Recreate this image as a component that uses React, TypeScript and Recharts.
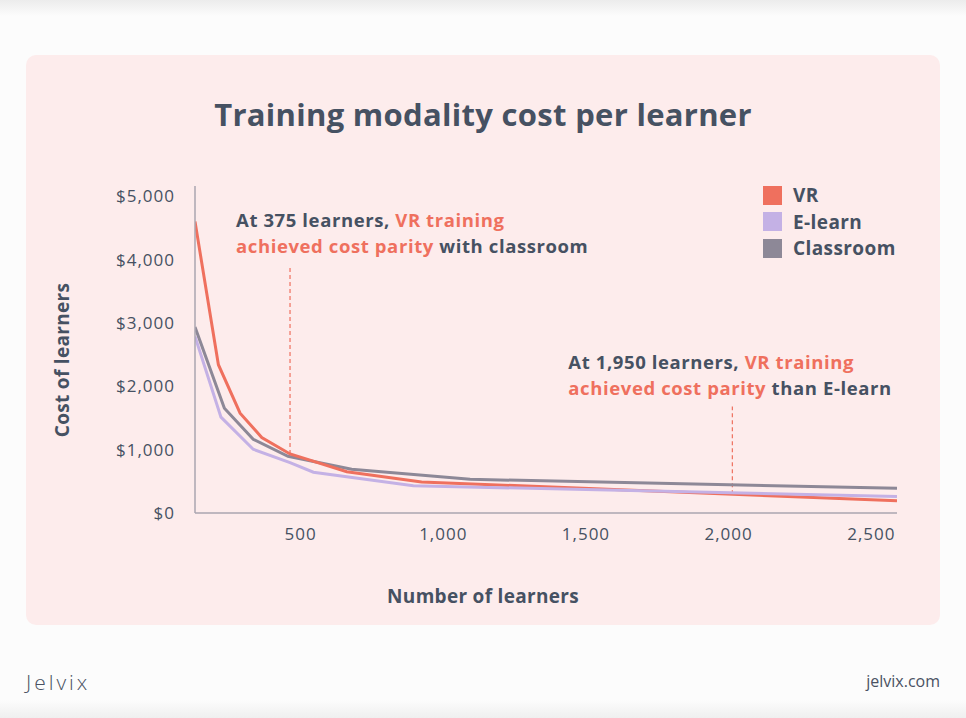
import React from 'react';
import { LineChart, Line, XAxis, YAxis, Legend, ReferenceLine } from 'recharts';

// ---- data ----
const seriesNames = ['VR', 'E-learn', 'Classroom'];
const seriesColors = ['#ef705e', '#c4b1e5', '#8d8897'];

const vrLearners = [130, 212, 288, 364, 463, 662, 924, 2590];
const vrCost = [4600, 2340, 1575, 1190, 932, 652, 490, 194];

const elearnLearners = [130, 221, 334, 463, 545, 895, 2590];
const elearnCost = [2786, 1512, 1006, 795, 643, 430, 260];

const classroomLearners = [130, 233, 334, 456, 679, 1094, 2590];
const classroomCost = [2934, 1654, 1164, 895, 690, 532, 390];

const xTicks = [500, 1000, 1500, 2000, 2500];
const yTicks = [0, 1000, 2000, 3000, 4000, 5000];

// annotation segments: [learners, costBottom, costTop]
const annotation1 = [463, 932, 3890];
const annotation2 = [2013, 295, 1680];
const annotation1Lines = [
  [['At 375 learners, ', 'dark'], ['VR training', 'red']],
  [['achieved cost parity', 'red'], [' with classroom', 'dark']],
];
const annotation2Lines = [
  [['At 1,950 learners, ', 'dark'], ['VR training', 'red']],
  [['achieved cost parity', 'red'], [' than E-learn', 'dark']],
];

const DARK = '#465162';
const RED = '#ef705e';
const FONT = '"Open Sans", "Noto Sans", sans-serif';

const toData = (xs: number[], ys: number[]) => xs.map((x, i) => ({ learners: x, cost: ys[i] }));
const vrData = toData(vrLearners, vrCost);
const elearnData = toData(elearnLearners, elearnCost);
const classroomData = toData(classroomLearners, classroomCost);

const fmtNum = (v: number) => v.toLocaleString('en-US');

const makeAnnotation = (lines: any[], dx: number, dy1: number, dy2: number) => (props: any) => {
  const vb = props.viewBox || {};
  const x = vb.x + dx;
  const y = vb.y;
  return (
    <g>
      {lines.map((line: any[], li: number) => (
        <text
          key={li}
          x={x}
          y={y + (li === 0 ? dy1 : dy2)}
          fontFamily={FONT}
          fontWeight={700}
          fontSize={18.5}
          letterSpacing={0.6}
          style={{ whiteSpace: 'pre' }}
        >
          {line.map((seg: any[], si: number) => (
            <tspan key={si} fill={seg[1] === 'red' ? RED : DARK}>{seg[0]}</tspan>
          ))}
        </text>
      ))}
    </g>
  );
};

const LegendContent = (props: any) => {
  const payload = [...(props.payload || [])].sort(
    (a: any, b: any) => seriesNames.indexOf(a.value) - seriesNames.indexOf(b.value)
  );
  return (
    <div style={{ fontFamily: FONT }}>
      {payload.map((p: any) => (
        <div key={p.value} style={{ display: 'flex', alignItems: 'center', height: 26.5 }}>
          <div style={{ width: 19, height: 19, background: p.color, marginRight: 11 }} />
          <span style={{ color: DARK, fontWeight: 700, fontSize: 19, letterSpacing: 0.4 }}>{p.value}</span>
        </div>
      ))}
    </div>
  );
};

const tickStyle = { fill: DARK, fontSize: 17, fontWeight: 500, fontFamily: FONT, letterSpacing: 1 };

export default function App() {
  return (
    <div
      style={{
        position: 'absolute',
        left: 0,
        top: 0,
        width: 966,
        height: 718,
        overflow: 'hidden',
        background: '#fcfcfc',
        fontFamily: FONT,
      }}
    >
      <div style={{ position: 'absolute', left: 0, top: 0, width: 966, height: 16, background: 'linear-gradient(#ececec, rgba(252,252,252,0))' }} />
      <div style={{ position: 'absolute', left: 0, top: 700, width: 966, height: 18, background: 'linear-gradient(rgba(252,252,252,0), #efefef)' }} />
      <div
        style={{
          position: 'absolute',
          left: 26,
          top: 55,
          width: 914,
          height: 570,
          background: '#fdecec',
          borderRadius: 10,
        }}
      />
      <div
        style={{
          position: 'absolute',
          left: 0,
          width: 966,
          top: 94,
          textAlign: 'center',
          fontSize: 31,
          fontWeight: 700,
          color: DARK,
          lineHeight: '40px',
          letterSpacing: 0.3,
        }}
      >
        Training modality cost per learner
      </div>
      <div
        style={{
          position: 'absolute',
          left: 62 - 100,
          top: 360 - 12,
          width: 200,
          height: 24,
          lineHeight: '24px',
          textAlign: 'center',
          transform: 'rotate(-90deg)',
          fontSize: 19,
          fontWeight: 700,
          color: DARK,
          letterSpacing: 0.3,
        }}
      >
        Cost of learners
      </div>
      <div
        style={{
          position: 'absolute',
          left: 333,
          width: 300,
          top: 584,
          lineHeight: '24px',
          textAlign: 'center',
          fontSize: 19,
          fontWeight: 700,
          color: DARK,
          letterSpacing: 0.3,
        }}
      >
        Number of learners
      </div>
      <div style={{ position: 'absolute', left: 26, top: 668, fontSize: 21, fontWeight: 300, color: '#4a5263', letterSpacing: 3, lineHeight: '28px' }}>
        Jelvix
      </div>
      <div style={{ position: 'absolute', right: 26, top: 670, fontSize: 16, fontWeight: 400, color: '#4a5263', lineHeight: '22px' }}>
        jelvix.com
      </div>
      <div style={{ position: 'absolute', left: 0, top: 0 }}>
        <LineChart width={966} height={718} margin={{ top: 186, right: 69, bottom: 165, left: 0 }}>
          <XAxis
            dataKey="learners"
            type="number"
            domain={[130, 2590]}
            ticks={xTicks}
            tickFormatter={fmtNum}
            allowDataOverflow
            height={40}
            tickSize={0}
            tickMargin={15}
            axisLine={{ stroke: '#aaa6b1', strokeWidth: 1.5 }}
            tick={tickStyle}
          />
          <YAxis
            type="number"
            domain={[0, 5160]}
            ticks={yTicks}
            allowDataOverflow
            tickFormatter={(v: number) => `$${fmtNum(v)}`}
            width={195}
            tickSize={0}
            tickMargin={20}
            axisLine={{ stroke: '#aaa6b1', strokeWidth: 1.5 }}
            tick={tickStyle}
          />
          <Legend
            layout="horizontal"
            verticalAlign="middle"
            align="center"
            content={<LegendContent />}
            wrapperStyle={{ left: 763, top: 182, width: 160 }}
          />
          <ReferenceLine
            segment={[
              { x: annotation1[0], y: annotation1[1] },
              { x: annotation1[0], y: annotation1[2] },
            ]}
            stroke={RED}
            strokeDasharray="4 3"
            strokeWidth={1.2}
            label={{ content: makeAnnotation(annotation1Lines, -54, -39.5, -13.5) }}
          />
          <ReferenceLine
            segment={[
              { x: annotation2[0], y: annotation2[1] },
              { x: annotation2[0], y: annotation2[2] },
            ]}
            stroke={RED}
            strokeDasharray="4 3"
            strokeWidth={1.2}
            label={{ content: makeAnnotation(annotation2Lines, -164, -37.5, -11.5) }}
          />
          <Line data={classroomData} dataKey="cost" name={seriesNames[2]} stroke={seriesColors[2]} strokeWidth={3} dot={false} isAnimationActive={false} />
          <Line data={vrData} dataKey="cost" name={seriesNames[0]} stroke={seriesColors[0]} strokeWidth={3} dot={false} isAnimationActive={false} />
          <Line data={elearnData} dataKey="cost" name={seriesNames[1]} stroke={seriesColors[1]} strokeWidth={3} dot={false} isAnimationActive={false} />
        </LineChart>
      </div>
    </div>
  );
}
